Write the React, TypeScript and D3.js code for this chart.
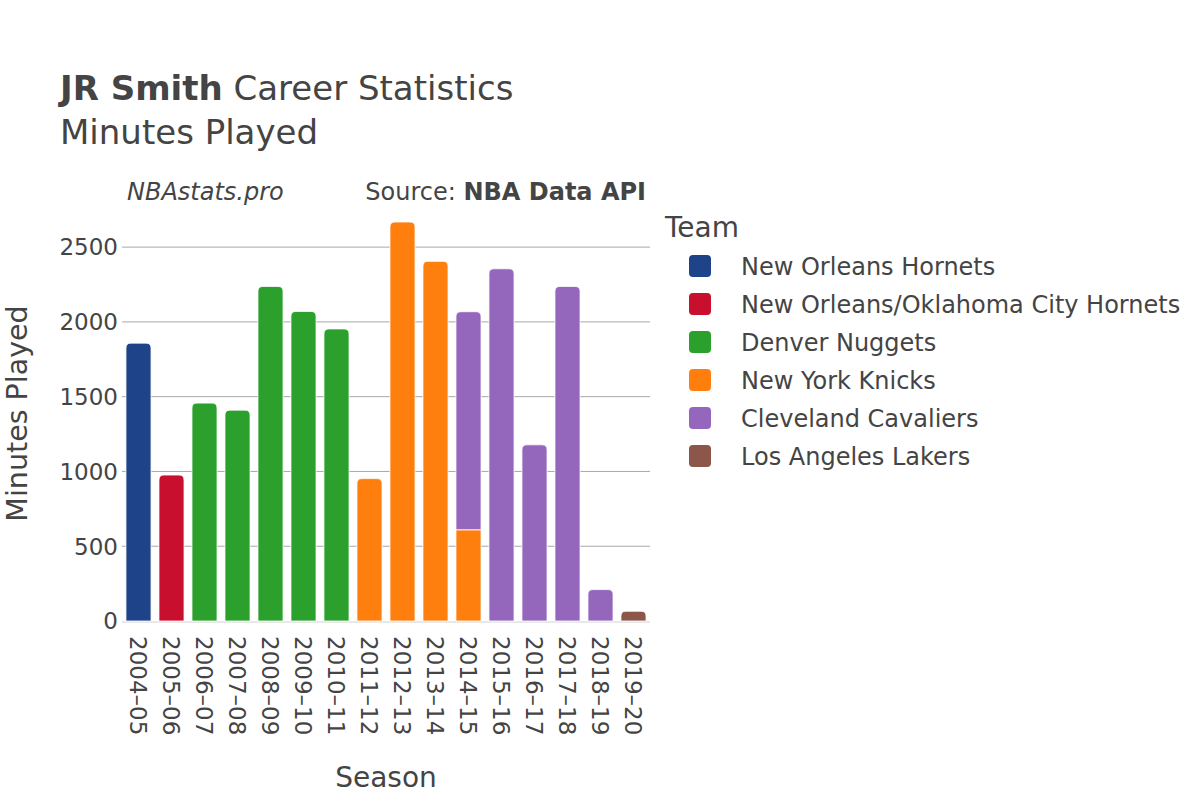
import React, { useRef, useEffect } from "react";
import * as d3 from "d3";

const seasons = [
  "2004–05", "2005–06", "2006–07", "2007–08", "2008–09", "2009–10", "2010–11", "2011–12",
  "2012–13", "2013–14", "2014–15", "2015–16", "2016–17", "2017–18", "2018–19", "2019–20",
];

const teams = [
  "New Orleans Hornets",
  "New Orleans/Oklahoma City Hornets",
  "Denver Nuggets",
  "New York Knicks",
  "Cleveland Cavaliers",
  "Los Angeles Lakers",
];

const teamColors = ["#1f4388", "#c8102e", "#2ca02c", "#ff7f0e", "#9467bd", "#8c564b"];

// minutes per season for each team (0 = did not play for them)
const hornetsMin = [1858, 0, 0, 0, 0, 0, 0, 0, 0, 0, 0, 0, 0, 0, 0, 0];
const nokMin = [0, 976, 0, 0, 0, 0, 0, 0, 0, 0, 0, 0, 0, 0, 0, 0];
const nuggetsMin = [0, 0, 1457, 1410, 2237, 2070, 1953, 0, 0, 0, 0, 0, 0, 0, 0, 0];
const knicksMin = [0, 0, 0, 0, 0, 0, 0, 952, 2668, 2405, 610, 0, 0, 0, 0, 0];
const cavsMin = [0, 0, 0, 0, 0, 0, 0, 0, 0, 0, 1458, 2355, 1178, 2237, 210, 0];
const lakersMin = [0, 0, 0, 0, 0, 0, 0, 0, 0, 0, 0, 0, 0, 0, 0, 65];

const yTicks = [0, 500, 1000, 1500, 2000, 2500];

const FONT = "'DejaVu Sans', sans-serif";

const App = () => {
  const ref = useRef<SVGSVGElement>(null);

  useEffect(() => {
    const svg = d3.select(ref.current);
    svg.selectAll("*").remove();

    const series = [hornetsMin, nokMin, nuggetsMin, knicksMin, cavsMin, lakersMin];
    const left = 122, right = 650, top = 200, bottom = 621;

    const x = d3.scaleBand().domain(seasons).range([left, right]).paddingInner(0.24).paddingOuter(0.12);
    const y = d3.scaleLinear().domain([0, 2815]).range([bottom, top]);

    svg.append("rect").attr("width", 1200).attr("height", 800).attr("fill", "#fff");

    // gridlines
    svg.append("g")
      .selectAll("line")
      .data(yTicks.filter((t) => t > 0))
      .enter()
      .append("line")
      .attr("x1", left)
      .attr("x2", right)
      .attr("y1", (d) => y(d))
      .attr("y2", (d) => y(d))
      .attr("stroke", "#a8a8a8")
      .attr("stroke-width", 1);

    svg.append("line")
      .attr("x1", left)
      .attr("x2", right)
      .attr("y1", y(0) + 1)
      .attr("y2", y(0) + 1)
      .attr("stroke", "#e8e8e8")
      .attr("stroke-width", 2);

    // stacked bars
    const r = 5;
    seasons.forEach((s, i) => {
      let base = 0;
      const segs = series
        .map((vals, ti) => ({ ti, v: vals[i] }))
        .filter((d) => d.v > 0);
      segs.forEach((seg, k) => {
        const x0 = x(s)!;
        const w = x.bandwidth();
        const y0 = y(base);
        const y1 = y(base + seg.v);
        const isTop = k === segs.length - 1;
        const rr = Math.min(r, (y0 - y1) / 2);
        let path: string;
        if (isTop) {
          path = `M${x0},${y0}V${y1 + rr}Q${x0},${y1} ${x0 + rr},${y1}H${x0 + w - rr}Q${x0 + w},${y1} ${x0 + w},${y1 + rr}V${y0}Z`;
        } else {
          path = `M${x0},${y0}V${y1}H${x0 + w}V${y0}Z`;
        }
        svg.append("path")
          .attr("d", path)
          .attr("fill", teamColors[seg.ti])
          .attr("stroke", "#fff")
          .attr("stroke-width", 0.8);
        base += seg.v;
      });
    });

    // y tick labels
    svg.append("g")
      .selectAll("text")
      .data(yTicks)
      .enter()
      .append("text")
      .attr("x", 118)
      .attr("y", (d) => y(d))
      .attr("dy", "0.36em")
      .attr("text-anchor", "end")
      .attr("font-family", FONT)
      .attr("font-size", 23)
      .attr("fill", "#444")
      .text((d) => d);

    // x tick labels
    svg.append("g")
      .selectAll("text")
      .data(seasons)
      .enter()
      .append("text")
      .attr("transform", (d) => `translate(${x(d)! + x.bandwidth() / 2},636) rotate(90)`)
      .attr("dy", "0.36em")
      .attr("text-anchor", "start")
      .attr("font-family", FONT)
      .attr("font-size", 23)
      .attr("fill", "#444")
      .text((d) => d);

    // axis titles
    svg.append("text")
      .attr("x", 386)
      .attr("y", 787)
      .attr("text-anchor", "middle")
      .attr("font-family", FONT)
      .attr("font-size", 28)
      .attr("fill", "#444")
      .text("Season");

    svg.append("text")
      .attr("transform", `translate(27,${(top + bottom) / 2 + 3}) rotate(-90)`)
      .attr("text-anchor", "middle")
      .attr("font-family", FONT)
      .attr("font-size", 28.5)
      .attr("fill", "#444")
      .text("Minutes Played");

    // title
    const title = svg.append("text")
      .attr("x", 60)
      .attr("y", 100)
      .attr("font-family", FONT)
      .attr("font-size", 34)
      .attr("fill", "#444");
    title.append("tspan").attr("font-weight", "bold").text("JR Smith");
    title.append("tspan").text(" Career Statistics");

    svg.append("text")
      .attr("x", 60)
      .attr("y", 144)
      .attr("font-family", FONT)
      .attr("font-size", 34)
      .attr("fill", "#444")
      .text("Minutes Played");

    svg.append("text")
      .attr("x", 127)
      .attr("y", 200)
      .attr("font-family", FONT)
      .attr("font-size", 24)
      .attr("font-style", "italic")
      .attr("fill", "#444")
      .text("NBAstats.pro");

    const src = svg.append("text")
      .attr("x", 646)
      .attr("y", 200)
      .attr("text-anchor", "end")
      .attr("font-family", FONT)
      .attr("font-size", 24)
      .attr("fill", "#444");
    src.append("tspan").text("Source: ");
    src.append("tspan").attr("font-weight", "bold").text("NBA Data API");

    // legend
    svg.append("text")
      .attr("x", 665)
      .attr("y", 237)
      .attr("font-family", FONT)
      .attr("font-size", 28)
      .attr("fill", "#444")
      .text("Team");

    const legend = svg.append("g")
      .selectAll("g")
      .data(teams)
      .enter()
      .append("g")
      .attr("transform", (d, i) => `translate(0,${266 + i * 38})`);

    legend.append("rect")
      .attr("x", 689)
      .attr("y", -11)
      .attr("width", 22)
      .attr("height", 22)
      .attr("rx", 4)
      .attr("fill", (d, i) => teamColors[i]);

    legend.append("text")
      .attr("x", 741)
      .attr("dy", "0.36em")
      .attr("font-family", FONT)
      .attr("font-size", 24)
      .attr("fill", "#444")
      .text((d) => d);
  }, []);

  return <svg ref={ref} width={1200} height={800} style={{ display: "block", position: "absolute", left: 0, top: 0 }} />;
};

export default App;
